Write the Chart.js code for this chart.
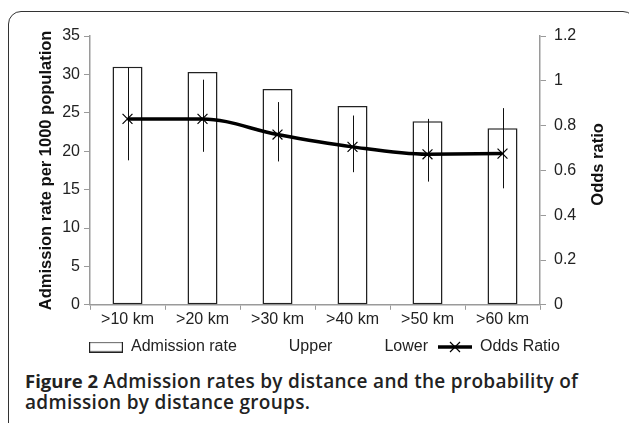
<!DOCTYPE html>
<html>
<head>
<meta charset="utf-8">
<script src="https://cdn.jsdelivr.net/npm/chart.js@4.4.0/dist/chart.umd.min.js"></script>
<style>
  html, body { margin: 0; padding: 0; background: #fff; }
  body { width: 629px; height: 423px; position: relative; overflow: hidden; }
  .frame {
    position: absolute; left: 8px; top: 11px; width: 628px; height: 460px;
    border: 1.5px solid #333; border-radius: 13px; box-sizing: border-box;
  }
  #wrap { position: absolute; left: 0; top: 0; width: 629px; height: 365px; }
  .caption {
    position: absolute; left: 25px; top: 370px; width: 595px;
    font-family: "Open Sans", "Noto Sans", sans-serif; font-size: 19px;
    font-weight: 600; line-height: 21px; letter-spacing: 0.3px; color: #222;
  }
  .caption b { font-weight: 700; font-size: 18.5px; letter-spacing: 0; }
</style>
</head>
<body>
<div class="frame"></div>
<div id="wrap"><canvas id="chart"></canvas></div>
<div class="caption"><b>Figure 2</b> Admission rates by distance and the probability of admission by distance groups.</div>
<script>
// ---------- Data ----------
const distances     = [">10 km", ">20 km", ">30 km", ">40 km", ">50 km", ">60 km"];
const admissionRate = [31.0, 30.3, 28.1, 25.9, 23.9, 23.0];
const oddsRatio     = [0.83, 0.83, 0.76, 0.705, 0.672, 0.675];
const upperCI       = [1.06, 1.005, 0.905, 0.845, 0.83, 0.878];
const lowerCI       = [0.645, 0.683, 0.64, 0.592, 0.55, 0.52];

const AXIS_GREY = "#9a9a9a";

// ---------- Legend marker images ----------
function legendImage(w, h, draw) {
    const c = document.createElement("canvas");
    c.width = w; c.height = h;
    draw(c.getContext("2d"));
    return c;
}
const boxMarker = legendImage(34, 11, ctx => {
    ctx.strokeStyle = "#222"; ctx.lineWidth = 1.2;
    ctx.strokeRect(0.6, 0.6, 32.8, 9.8);
});
const emptyMarker = legendImage(34, 11, () => {});
const oddsMarker = legendImage(34, 14, ctx => {
    ctx.strokeStyle = "#000";
    ctx.lineWidth = 3.5;
    ctx.beginPath(); ctx.moveTo(0, 7); ctx.lineTo(34, 7); ctx.stroke();
    ctx.lineWidth = 1.2;
    ctx.beginPath();
    ctx.moveTo(12, 2); ctx.lineTo(22, 12);
    ctx.moveTo(22, 2); ctx.lineTo(12, 12);
    ctx.stroke();
});

// ---------- Error bars between Upper and Lower ----------
const errorBars = {
    id: "errorBars",
    beforeDatasetDraw(chart, args) {
        if (args.index !== 3) return;
        const x = chart.scales.x, y = chart.scales.y1, ctx = chart.ctx;
        ctx.save();
        ctx.strokeStyle = "#111";
        ctx.lineWidth = 1;
        ctx.beginPath();
        distances.forEach((d, i) => {
            const px = Math.round(x.getPixelForValue(i)) + 0.5;
            ctx.moveTo(px, y.getPixelForValue(upperCI[i]));
            ctx.lineTo(px, y.getPixelForValue(lowerCI[i]));
        });
        ctx.stroke();
        ctx.restore();
    }
};

// ---------- Right axis title, reading bottom-to-top like the left one ----------
const rightTitle = {
    id: "rightTitle",
    afterDraw(chart) {
        const ctx = chart.ctx, area = chart.chartArea;
        ctx.save();
        ctx.translate(598, (area.top + area.bottom) / 2 - 6);
        ctx.rotate(-Math.PI / 2);
        ctx.font = 'bold 16.5px "Liberation Sans", Arial, sans-serif';
        ctx.fillStyle = "#111";
        ctx.textAlign = "center";
        ctx.textBaseline = "middle";
        ctx.fillText("Odds ratio", 0, 0);
        ctx.restore();
    }
};

Chart.defaults.font.family = '"Liberation Sans", Arial, sans-serif';
Chart.defaults.font.size = 16;
Chart.defaults.color = "#222";

new Chart(document.getElementById("chart"), {
    type: "bar",
    data: {
        labels: distances,
        datasets: [
            {
                label: "Admission rate",
                data: admissionRate,
                yAxisID: "y",
                backgroundColor: "#fff",
                borderColor: "#222",
                borderWidth: 1.5,
                borderSkipped: false,
                categoryPercentage: 0.8,
                barPercentage: 0.5,
                order: 4
            },
            {
                type: "line", label: "Upper", data: upperCI, yAxisID: "y1",
                showLine: false, pointRadius: 0, order: 3
            },
            {
                type: "line", label: "Lower", data: lowerCI, yAxisID: "y1",
                showLine: false, pointRadius: 0, order: 2
            },
            {
                type: "line",
                label: "Odds Ratio",
                data: oddsRatio,
                yAxisID: "y1",
                borderColor: "#000",
                borderWidth: 3.5,
                cubicInterpolationMode: "monotone",
                pointStyle: "crossRot",
                pointRadius: 7,
                pointBorderWidth: 1.2,
                pointBorderColor: "#000",
                order: 1
            }
        ]
    },
    options: {
        responsive: true,
        maintainAspectRatio: false,
        animation: false,
        layout: { padding: { left: 37, right: 17, top: 36, bottom: 0 } },
        plugins: {
            tooltip: { enabled: false },
            legend: {
                position: "bottom",
                labels: {
                    usePointStyle: true,
                    pointStyleWidth: 34,
                    boxHeight: 11,
                    padding: 10,
                    font: { size: 16 },
                    generateLabels(chart) {
                        const marks = [boxMarker, emptyMarker, emptyMarker, oddsMarker];
                        return chart.data.datasets.map((ds, i) => ({
                            text: ds.label,
                            pointStyle: marks[i],
                            datasetIndex: i,
                            fontColor: "#222",
                            lineWidth: 0
                        }));
                    }
                }
            }
        },
        scales: {
            x: {
                grid: { display: true, drawOnChartArea: false, offset: true, tickLength: 5, color: AXIS_GREY },
                border: { color: AXIS_GREY, width: 1.5 },
                ticks: { padding: 0 }
            },
            y: {
                position: "left",
                min: 0, max: 35,
                ticks: { stepSize: 5, padding: 4 },
                grid: { drawOnChartArea: false, tickLength: 6, color: AXIS_GREY },
                border: { color: AXIS_GREY, width: 1.5 },
                title: {
                    display: true,
                    text: "Admission rate per 1000 population",
                    font: { size: 16.5, weight: "bold" },
                    color: "#111",
                    padding: 0
                },
                afterFit(scale) { scale.width = 53; }
            },
            y1: {
                position: "right",
                min: 0, max: 1.2,
                ticks: { stepSize: 0.2, padding: 8, callback: v => +v.toFixed(1) },
                grid: { drawOnChartArea: false, tickLength: 6, color: AXIS_GREY },
                border: { color: AXIS_GREY, width: 1.5 },
                afterFit(scale) { scale.width = 72; }
            }
        }
    },
    plugins: [errorBars, rightTitle]
});
</script>
</body>
</html>
